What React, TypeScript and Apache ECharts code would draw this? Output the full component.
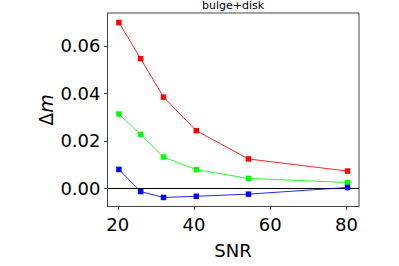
import React, { useEffect, useRef } from "react";
import * as echarts from "echarts";

const snr = [20.3, 26.0, 32.0, 40.6, 54.3, 80.3];
const redValues = [0.0698, 0.0546, 0.0384, 0.0243, 0.0124, 0.0073];
const greenValues = [0.0313, 0.0227, 0.0132, 0.0079, 0.0042, 0.0025];
const blueValues = [0.008, -0.0013, -0.0038, -0.0033, -0.0024, 0.0004];
const xTicks = [20, 40, 60, 80];
const yTicks = [0, 0.02, 0.04, 0.06];
const titleText = "bulge+disk";
const xName = "SNR";

const FONT = "DejaVu Sans";

function pairs(xs: number[], ys: number[]) {
  return xs.map((x, i) => [x, ys[i]]);
}

export default function App() {
  const ref = useRef<HTMLDivElement>(null);
  useEffect(() => {
    document.body.style.margin = "0";
    const chart = echarts.init(ref.current!, null, { renderer: "svg" });
    const mk = (name: string, color: string, ys: number[]) => ({
      name,
      type: "line",
      data: pairs(snr, ys),
      symbol: "rect",
      symbolSize: 5.5,
      itemStyle: { color },
      lineStyle: { color, width: 1, opacity: 0.85 },
      z: 3,
    });
    chart.setOption({
      animation: false,
      grid: {
        left: 107.5,
        right: 40,
        top: 13,
        bottom: 59.5,
        show: true,
        borderColor: "#444",
        borderWidth: 1,
      },
      xAxis: {
        type: "value",
        min: 17.3,
        max: 83.3,
        splitLine: { show: false },
        axisLine: { show: true, onZero: false, lineStyle: { color: "#444", width: 1 } },
        axisTick: { show: true, customValues: xTicks, length: 3.5, lineStyle: { color: "#444" } },
        axisLabel: {
          customValues: xTicks,
          color: "#000",
          fontSize: 18,
          fontFamily: FONT,
          margin: 9,
          formatter: (v: number) => String(v),
        },
      },
      yAxis: {
        type: "value",
        min: -0.0076,
        max: 0.0738,
        splitLine: { show: false },
        axisLine: { show: true, onZero: false, lineStyle: { color: "#444", width: 1 } },
        axisTick: { show: true, customValues: yTicks, length: 3.5, lineStyle: { color: "#444" } },
        axisLabel: {
          customValues: yTicks,
          color: "#000",
          fontSize: 18,
          fontFamily: FONT,
          margin: 7,
          formatter: (v: number) => v.toFixed(2),
        },
      },
      series: [
        {
          ...mk("red", "#ff0000", redValues),
          markLine: {
            silent: true,
            symbol: "none",
            label: { show: false },
            lineStyle: { color: "#000", width: 1.2, type: "solid" },
            data: [{ yAxis: 0 }],
            z: 2,
          },
        },
        mk("green", "#00ff00", greenValues),
        mk("blue", "#0000ff", blueValues),
      ],
      graphic: [
        {
          type: "text",
          x: 233,
          y: 0,
          style: {
            text: titleText,
            fontSize: 11,
            fontFamily: FONT,
            fill: "#000",
            align: "center",
            verticalAlign: "top",
          },
        },
        {
          type: "text",
          x: 233,
          y: 250,
          style: {
            text: xName,
            fontSize: 18,
            fontFamily: FONT,
            fill: "#000",
            align: "center",
            verticalAlign: "middle",
          },
        },
        {
          type: "text",
          x: 46,
          y: 110,
          rotation: Math.PI / 2,
          style: {
            text: "{a|Δ}{b|m}",
            fontSize: 18,
            fontFamily: FONT,
            fill: "#000",
            align: "center",
            verticalAlign: "middle",
            rich: {
              a: { fontSize: 19, fontFamily: FONT, fill: "#000" },
              b: { fontSize: 19, fontFamily: FONT, fontStyle: "italic", fill: "#000" },
            },
          },
        },
      ],
    });
    return () => chart.dispose();
  }, []);
  return <div ref={ref} style={{ width: 399, height: 266 }} />;
}
